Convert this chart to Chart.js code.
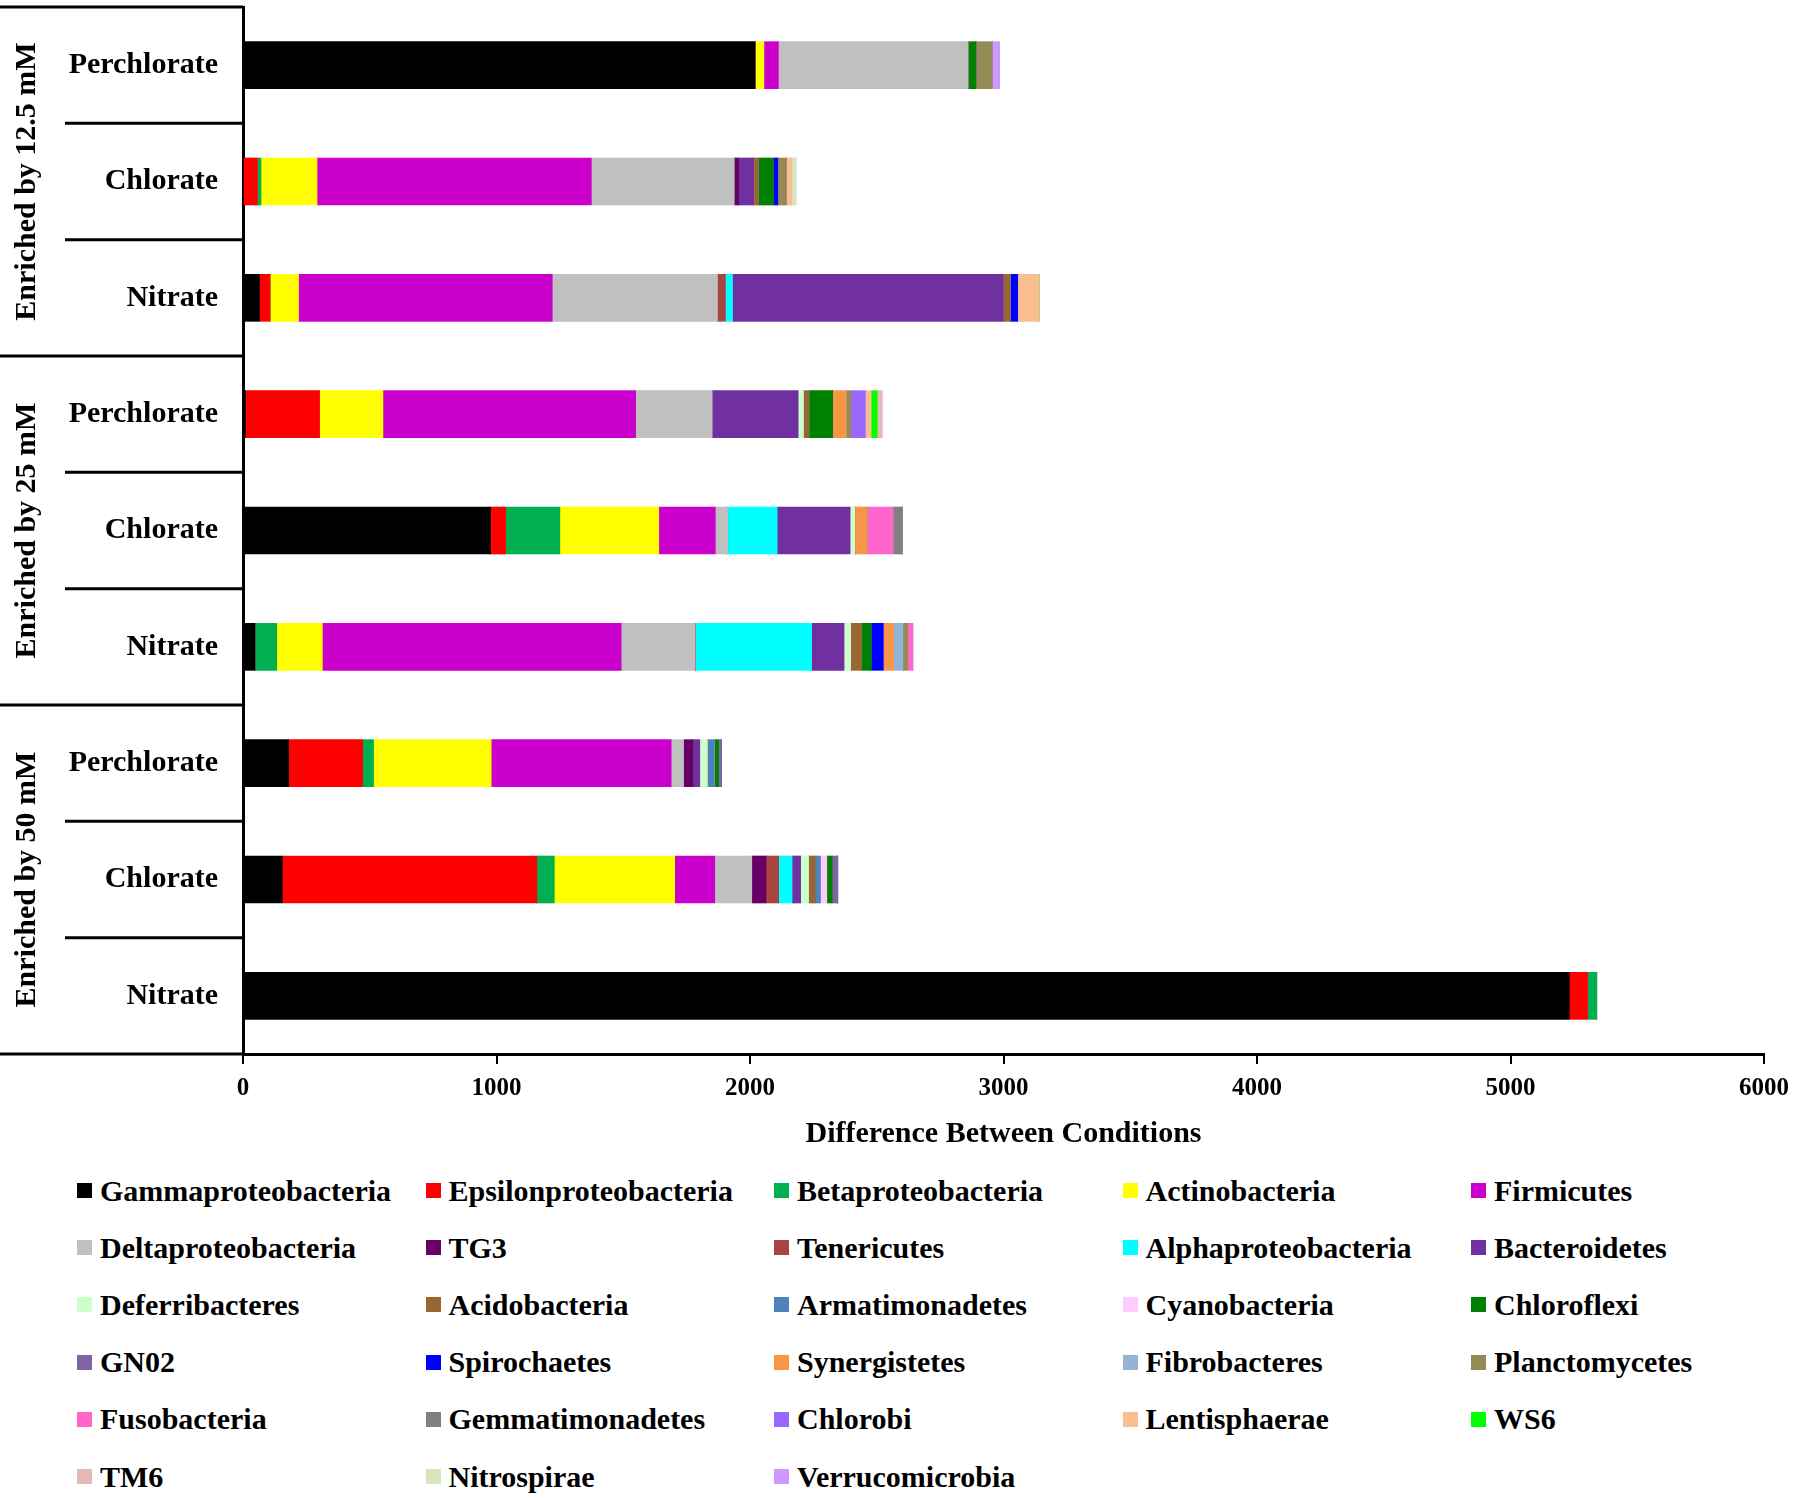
<!DOCTYPE html>
<html>
<head>
<meta charset="utf-8">
<script src="https://cdn.jsdelivr.net/npm/chart.js@4.4.0/dist/chart.umd.min.js"></script>
<style>
  html, body { margin: 0; padding: 0; background: #fff; }
  #wrap { position: relative; width: 1800px; height: 1498px; }
  #grafico { position: absolute; left: 0; top: 0; }
  #leyenda {
    position: absolute; left: 77px; top: 1162px;
    display: grid; grid-template-columns: repeat(5, 348.5px); grid-auto-rows: 57.2px;
    font: bold 30px "Liberation Serif", "Times New Roman", serif; color: #000;
  }
  .item { display: flex; align-items: center; white-space: nowrap; }
  .caja { width: 15px; height: 15px; margin-right: 8px; flex: none; }
</style>
</head>
<body>
<div id="wrap">
  <canvas id="grafico" width="1800" height="1162"></canvas>
  <div id="leyenda"></div>
</div>
<script>
// Filas de arriba a abajo
const condiciones = ['Perchlorate', 'Chlorate', 'Nitrate', 'Perchlorate', 'Chlorate', 'Nitrate', 'Perchlorate', 'Chlorate', 'Nitrate'];
const grupos = ['Enriched by 12.5 mM', 'Enriched by 25 mM', 'Enriched by 50 mM'];
const ticksX = [0, 1000, 2000, 3000, 4000, 5000, 6000];

// Valores por filo (mismo orden que las filas)
const gammaproteobacteria = [2020, 0, 65, 10, 977, 47, 180, 155, 5232];
const epsilonproteobacteria = [0, 57, 42, 292, 59, 0, 292, 1004, 72];
const betaproteobacteria = [0, 14, 0, 0, 214, 86, 43, 69, 36];
const actinobacteria = [35, 221, 112, 250, 390, 180, 464, 475, 0];
const firmicutes = [57, 1082, 1001, 997, 223, 1179, 710, 158, 0];
const deltaproteobacteria = [748, 564, 652, 302, 49, 292, 49, 146, 0];
const tg3 = [0, 17, 0, 0, 0, 0, 38, 56, 0];
const tenericutes = [0, 0, 31, 0, 0, 0, 0, 50, 0];
const alphaproteobacteria = [0, 0, 28, 0, 195, 459, 0, 53, 0];
const bacteroidetes = [0, 60, 1069, 339, 288, 128, 26, 34, 0];
const deferribacteres = [0, 0, 0, 21, 18, 26, 30, 31, 0];
const acidobacteria = [0, 18, 26, 21, 0, 43, 0, 26, 0];
const armatimonadetes = [0, 0, 0, 0, 0, 0, 27, 21, 0];
const cyanobacteria = [0, 0, 0, 0, 0, 0, 0, 25, 0];
const chloroflexi = [31, 60, 0, 94, 0, 38, 17, 21, 0];
const gn02 = [0, 0, 0, 0, 0, 0, 12, 22, 0];
const spirochaetes = [0, 17, 30, 0, 0, 48, 0, 0, 0];
const synergistetes = [0, 0, 0, 53, 49, 40, 0, 0, 0];
const fibrobacteres = [0, 0, 0, 0, 0, 37, 0, 0, 0];
const planctomycetes = [64, 33, 0, 19, 0, 19, 0, 0, 0];
const fusobacteria = [0, 0, 0, 0, 103, 20, 0, 0, 0];
const gemmatimonadetes = [0, 0, 0, 0, 36, 0, 0, 0, 0];
const chlorobi = [0, 0, 0, 57, 0, 0, 0, 0, 0];
const lentisphaerae = [0, 21, 85, 23, 0, 0, 0, 0, 0];
const ws6 = [0, 0, 0, 24, 0, 0, 0, 0, 0];
const tm6 = [0, 0, 0, 19, 0, 0, 0, 0, 0];
const nitrospirae = [0, 17, 0, 0, 0, 0, 0, 0, 0];
const verrucomicrobia = [30, 0, 0, 0, 0, 0, 0, 0, 0];

// Series: nombre, datos, color
const series = [
    ['Gammaproteobacteria', gammaproteobacteria, '#000000'],
    ['Epsilonproteobacteria', epsilonproteobacteria, '#FF0000'],
    ['Betaproteobacteria', betaproteobacteria, '#00B050'],
    ['Actinobacteria', actinobacteria, '#FFFF00'],
    ['Firmicutes', firmicutes, '#CC00CC'],
    ['Deltaproteobacteria', deltaproteobacteria, '#C0C0C0'],
    ['TG3', tg3, '#660066'],
    ['Tenericutes', tenericutes, '#A94441'],
    ['Alphaproteobacteria', alphaproteobacteria, '#00FFFF'],
    ['Bacteroidetes', bacteroidetes, '#7030A0'],
    ['Deferribacteres', deferribacteres, '#CCFFCC'],
    ['Acidobacteria', acidobacteria, '#996633'],
    ['Armatimonadetes', armatimonadetes, '#4F81BD'],
    ['Cyanobacteria', cyanobacteria, '#FFCCFF'],
    ['Chloroflexi', chloroflexi, '#008000'],
    ['GN02', gn02, '#8064A2'],
    ['Spirochaetes', spirochaetes, '#0000FF'],
    ['Synergistetes', synergistetes, '#F79646'],
    ['Fibrobacteres', fibrobacteres, '#95B3D7'],
    ['Planctomycetes', planctomycetes, '#948A54'],
    ['Fusobacteria', fusobacteria, '#FF66CC'],
    ['Gemmatimonadetes', gemmatimonadetes, '#808080'],
    ['Chlorobi', chlorobi, '#9966FF'],
    ['Lentisphaerae', lentisphaerae, '#FABF8F'],
    ['WS6', ws6, '#00FF00'],
    ['TM6', tm6, '#E6B9B8'],
    ['Nitrospirae', nitrospirae, '#D7E4BD'],
    ['Verrucomicrobia', verrucomicrobia, '#CC99FF']
];

const fuente = '"Liberation Serif", "Times New Roman", serif';

// Etiquetas de grupo y lineas separadoras a la izquierda
const grupoPlugin = {
    id: 'grupos',
    afterDraw(chart) {
        const { ctx, chartArea } = chart;
        const y = chart.scales.y;
        const left = chartArea.left;
        ctx.save();
        ctx.strokeStyle = '#000';
        ctx.lineWidth = 3;
        const linea = (x1, y1, x2, y2) => {
            ctx.beginPath(); ctx.moveTo(x1, y1); ctx.lineTo(x2, y2); ctx.stroke();
        };
        linea(0, chartArea.top, left, chartArea.top);
        for (let i = 1; i < condiciones.length; i++) {
            const yy = (y.getPixelForValue(i - 1) + y.getPixelForValue(i)) / 2;
            linea(i % 3 === 0 ? 0 : 65, yy, left, yy);
        }
        linea(0, chartArea.bottom, left, chartArea.bottom);

        ctx.fillStyle = '#000';
        ctx.font = 'bold 30px ' + fuente;
        ctx.textAlign = 'center';
        ctx.textBaseline = 'middle';
        grupos.forEach((g, k) => {
            const cy = y.getPixelForValue(k * 3 + 1);
            ctx.save();
            ctx.translate(27, cy);
            ctx.rotate(-Math.PI / 2);
            ctx.fillText(g, 0, 0);
            ctx.restore();
        });
        ctx.restore();
    }
};

const ctx = document.getElementById('grafico').getContext('2d');
const grafico = new Chart(ctx, {
    type: 'bar',
    data: {
        labels: condiciones,
        datasets: series.map(s => ({
            label: s[0],
            data: s[1],
            backgroundColor: s[2],
            borderWidth: 0,
            barThickness: 47
        }))
    },
    options: {
        indexAxis: 'y',
        responsive: false,
        animation: false,
        devicePixelRatio: 1,
        layout: { padding: { top: 7, right: 36, bottom: 6, left: 0 } },
        plugins: {
            legend: { display: false },
            tooltip: { enabled: false }
        },
        scales: {
            x: {
                stacked: true,
                min: 0,
                max: 6000,
                afterBuildTicks: scale => { scale.ticks = ticksX.map(v => ({ value: v })); },
                grid: { drawOnChartArea: false, drawTicks: true, tickLength: 10, color: '#000', lineWidth: 2 },
                border: { display: true, color: '#000', width: 3 },
                ticks: {
                    color: '#000', padding: 10, maxRotation: 0,
                    callback: v => String(v),
                    font: { family: fuente, size: 25, weight: 'bold' }
                },
                title: {
                    display: true,
                    text: 'Difference Between Conditions',
                    color: '#000',
                    padding: { top: 2, bottom: 4 },
                    font: { family: fuente, size: 30, weight: 'bold' }
                }
            },
            y: {
                stacked: true,
                afterFit: scale => { scale.width = 243; scale.paddingTop = 0; scale.paddingBottom = 0; },
                grid: { display: false },
                border: { display: true, color: '#000', width: 3 },
                ticks: { color: '#000', padding: 17, font: { family: fuente, size: 30, weight: 'bold' } }
            }
        }
    },
    plugins: [grupoPlugin]
});

// Leyenda en rejilla de 5 columnas
const leyenda = document.getElementById('leyenda');
series.forEach(s => {
    const item = document.createElement('div');
    item.className = 'item';
    const caja = document.createElement('span');
    caja.className = 'caja';
    caja.style.background = s[2];
    item.appendChild(caja);
    item.appendChild(document.createTextNode(s[0]));
    leyenda.appendChild(item);
});
</script>
</body>
</html>
